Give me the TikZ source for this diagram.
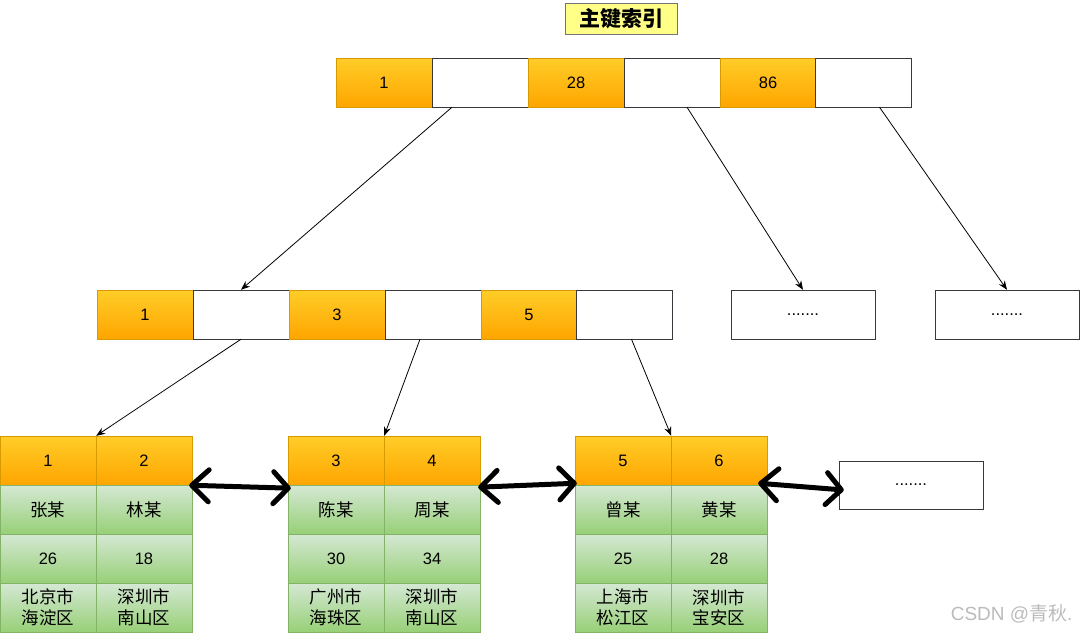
\documentclass[tikz,border=0pt]{standalone}
\usepackage{fontspec}
\setmainfont{Liberation Sans}
\newfontfamily\cjk{Noto Sans CJK SC}
\usetikzlibrary{arrows.meta}
\definecolor{keytop}{HTML}{FFCD28}
\definecolor{keybot}{HTML}{FFA500}
\definecolor{keyline}{HTML}{D79B00}
\definecolor{rowtop}{HTML}{D5E8D4}
\definecolor{rowbot}{HTML}{97D077}
\definecolor{rowline}{HTML}{82B366}
\definecolor{ptrline}{HTML}{36393D}
\definecolor{titlefill}{HTML}{FFFF88}
\definecolor{markgray}{HTML}{BBBBBB}

\begin{document}
\begin{tikzpicture}[x=1pt, y=-1pt,
    keycell/.style={draw=keyline, top color=keytop, bottom color=keybot, minimum width=96pt, minimum height=49pt, inner sep=0pt, font=\fontsize{16.5}{19}\selectfont},
    ptrcell/.style={draw=ptrline, fill=white, minimum width=96pt, minimum height=49pt, inner sep=0pt},
    rowcell/.style={draw=rowline, top color=rowtop, bottom color=rowbot, minimum width=96pt, minimum height=49pt, inner sep=0pt, align=center, font=\cjk\fontsize{17.5}{20.5}\selectfont},
    numcell/.style={rowcell, font=\fontsize{16.5}{19}\selectfont},
    morebox/.style={draw=ptrline, fill=white, minimum width=144pt, minimum height=49pt, font=\fontsize{16.5}{19}\selectfont},
    link/.style={-{Stealth[length=9pt,width=7pt]}, line width=0.8pt},
    sibling/.style={{Straight Barb[length=17pt,width=32pt,round]}-{Straight Barb[length=15pt,width=32pt,round]}, line width=5pt, line cap=round}
]
\useasboundingbox (0,0) rectangle (1080,633);

% title
\node[draw=ptrline!70, fill=titlefill, minimum width=112pt, minimum height=31pt, font=\cjk\bfseries\fontsize{21}{24}\selectfont] (title) at (621,18.5) {主键索引};

% root page
\node[keycell] (rk1) at (384,82.5) {1};
\node[ptrcell] (rp1) at (480,82.5) {};
\node[keycell] (rk2) at (576,82.5) {28};
\node[ptrcell] (rp2) at (672,82.5) {};
\node[keycell] (rk3) at (768,82.5) {86};
\node[ptrcell] (rp3) at (863.5,82.5) {};

% inner page
\node[keycell] (ik1) at (145,314.5) {1};
\node[ptrcell] (ip1) at (241,314.5) {};
\node[keycell] (ik2) at (337,314.5) {3};
\node[ptrcell] (ip2) at (433,314.5) {};
\node[keycell] (ik3) at (529,314.5) {5};
\node[ptrcell] (ip3) at (624.5,314.5) {};
\node[morebox] (moreA) at (803,314.5) {.......};
\node[morebox] (moreB) at (1007,314.5) {.......};

% leaf pages
\node[keycell] (la1) at (48,460.5) {1};
\node[keycell] (la2) at (144,460.5) {2};
\node[rowcell] (la1n) at (48,509.5) {张某};
\node[rowcell] (la2n) at (144,509.5) {林某};
\node[numcell] (la1a) at (48,558.5) {26};
\node[numcell] (la2a) at (144,558.5) {18};
\node[rowcell] (la1c) at (48,607.5) {北京市\\海淀区};
\node[rowcell] (la2c) at (144,607.5) {深圳市\\南山区};

\node[keycell] (lb1) at (336,460.5) {3};
\node[keycell] (lb2) at (432,460.5) {4};
\node[rowcell] (lb1n) at (336,509.5) {陈某};
\node[rowcell] (lb2n) at (432,509.5) {周某};
\node[numcell] (lb1a) at (336,558.5) {30};
\node[numcell] (lb2a) at (432,558.5) {34};
\node[rowcell] (lb1c) at (336,607.5) {广州市\\海珠区};
\node[rowcell] (lb2c) at (432,607.5) {深圳市\\南山区};

\node[keycell] (lc1) at (623,460.5) {5};
\node[keycell] (lc2) at (719,460.5) {6};
\node[rowcell] (lc1n) at (623,509.5) {曾某};
\node[rowcell] (lc2n) at (719,509.5) {黄某};
\node[numcell] (lc1a) at (623,558.5) {25};
\node[numcell] (lc2a) at (719,558.5) {28};
\node[rowcell] (lc1c) at (623,607.5) {上海市\\松江区};
\node[rowcell] (lc2c) at (719,607.5) {深圳市\\宝安区};

\node[morebox, minimum height=48pt] (moreC) at (911,485) {.......};

% child pointers
\draw[link] ([xshift=-28pt]rp1.south) -- (ip1.north);
\draw[link] ([xshift=15pt]rp2.south) -- (moreA.north);
\draw[link] ([xshift=16pt]rp3.south) -- (moreB.north);
\draw[link] (ip1.south) -- (la1.north east);
\draw[link] ([xshift=-13pt]ip2.south) -- (lb1.north east);
\draw[link] ([xshift=7pt]ip3.south) -- (lc1.north east);

% sibling links
\draw[sibling] ([xshift=-3pt,yshift=0pt]la2.south east) -- ([xshift=3pt,yshift=-3pt]lb1.south west);
\draw[sibling] ([xshift=-2pt,yshift=-2pt]lb2.south east) -- ([xshift=2pt,yshift=2pt]lc1.south west);
\draw[sibling] ([xshift=-9pt,yshift=2pt]lc2.south east) -- ([xshift=5pt,yshift=-5pt]moreC.west);

% watermark
\node[text=markgray, font=\fontsize{19}{22}\selectfont, anchor=east] (mark) at (1076,614) {CSDN @{\cjk 青秋}.};
\end{tikzpicture}
\end{document}
